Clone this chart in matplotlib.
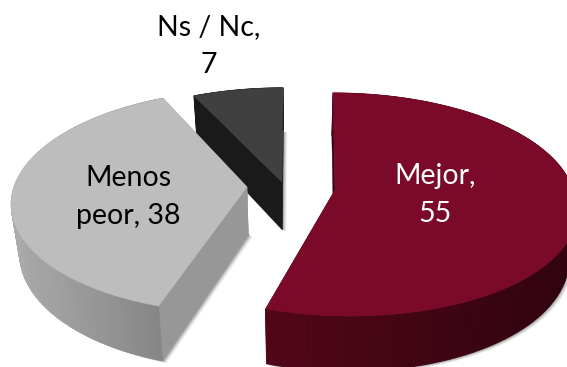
import numpy as np
import matplotlib
matplotlib.use("Agg")
import matplotlib.pyplot as plt
from matplotlib.patches import Polygon

categories = ["Mejor", "Menos peor", "Ns / Nc"]
values = [55, 38, 7]
label_lines = ["Mejor,\n{}", "Menos\npeor, {}", "Ns / Nc,\n{}"]

VX, A, P, DEPTH = 292.0, 109.7, 0.13, 48.0
apex = {"Mejor": (43, 190), "Menos peor": (-45, 187), "Ns / Nc": (-10, 182)}
radius = {"Mejor": 238, "Menos peor": 233, "Ns / Nc": 234}
a_scale = {"Mejor": 1.0, "Menos peor": 1.0, "Ns / Nc": 0.97}
shear = {"Mejor": (0.07, 0.03), "Menos peor": (0.0, 0.0), "Ns / Nc": (0.0, 0.0)}
top_col = {"Mejor": "#7b0a2a", "Menos peor": "#bdbdbd", "Ns / Nc": "#404040"}
cut_col = {"Mejor": "#3a0412", "Menos peor": "#979797", "Ns / Nc": "#1a1a1a"}
wall_a = {"Mejor": "#520619", "Menos peor": "#ababab", "Ns / Nc": "#1a1a1a"}
wall_b = {"Mejor": "#30030e", "Menos peor": "#868686", "Ns / Nc": "#1a1a1a"}
label_pos = {"Mejor": (435, 195), "Menos peor": (128, 197), "Ns / Nc": (209, 46)}
label_col = {"Mejor": "white", "Menos peor": "black", "Ns / Nc": "black"}
draw_order = ["Ns / Nc", "Menos peor", "Mejor"]

fig = plt.figure(figsize=(5.67, 3.67), dpi=100)
ax = fig.add_axes([0, 0, 1, 1])
ax.set_xlim(0, 567)
ax.set_ylim(367, 0)
ax.axis("off")


def project(name, theta, rho=1.0, z=0.0):
    x0, y0 = apex[name]
    R = radius[name]
    k = 1 / (1 + P * rho * np.sin(theta))
    sx = VX + (x0 + R * rho * np.cos(theta)) * k * (1 - 0.03 * z)
    dy = -A * a_scale[name] * rho * np.sin(theta) * k
    sh_front, sh_back = shear[name]
    sx += sh_front * max(dy, 0) + sh_back * max(-dy, 0)
    sy = y0 + dy + z * DEPTH * k
    return sx, sy


def mix(c1, c2, t):
    a = np.array(matplotlib.colors.to_rgb(c1))
    b = np.array(matplotlib.colors.to_rgb(c2))
    return tuple(a + (b - a) * t)


total = sum(values)
start = 90.0
spans = {}
for c, v in zip(categories, values):
    end = start - 360.0 * v / total
    spans[c] = (start, end)
    start = end

for n, name in enumerate(draw_order):
    base = 10 * n
    a0, a1 = spans[name]
    th = np.radians(np.linspace(a0, a1, 160))
    rim = np.array([project(name, t) for t in th])
    low = np.array([project(name, t, z=1.0) for t in th])
    ap_t = np.array(project(name, 0.0, rho=0.0))
    ap_b = np.array(project(name, 0.0, rho=0.0, z=1.0))

    # soft shadow below the walls
    for d, al in [(4, 0.06), (3, 0.09), (2, 0.12), (1, 0.15)]:
        pts = np.vstack([ap_b, low]) + [d, d * 0.6]
        ax.add_patch(Polygon(pts, closed=True, fc="black", ec="none", alpha=al, zorder=base + 1))

    # cut faces
    for i in (0, -1):
        q = [ap_t, rim[i], low[i], ap_b]
        ax.add_patch(Polygon(q, closed=True, fc=cut_col[name], ec=cut_col[name], lw=0.3, zorder=base + 2))

    # outer wall with a gradient
    xs = rim[:, 0]
    vis = np.sin(th) < 0.2
    ref = xs[vis] if vis.any() else xs
    xmin, xmax = ref.min(), ref.max()
    for i in range(len(th) - 1):
        f = np.clip((xs[i] - xmin) / max(xmax - xmin, 1), 0, 1)
        col = mix(wall_a[name], wall_b[name], f)
        q = [rim[i], rim[i + 1], low[i + 1], low[i]]
        ax.add_patch(Polygon(q, closed=True, fc=col, ec=col, lw=0.6, zorder=base + 3))

    # top face
    ax.add_patch(Polygon(np.vstack([ap_t, rim]), closed=True, fc=top_col[name],
                         ec=top_col[name], lw=0.3, zorder=base + 4))

for c, v, tmpl in zip(categories, values, label_lines):
    x, y = label_pos[c]
    ax.text(x, y, tmpl.format(v), ha="center", va="center", color=label_col[c],
            family=["Lato", "DejaVu Sans"], fontsize=20.5, linespacing=1.58, zorder=100)

fig.savefig("out.png", dpi=100, facecolor="white")
